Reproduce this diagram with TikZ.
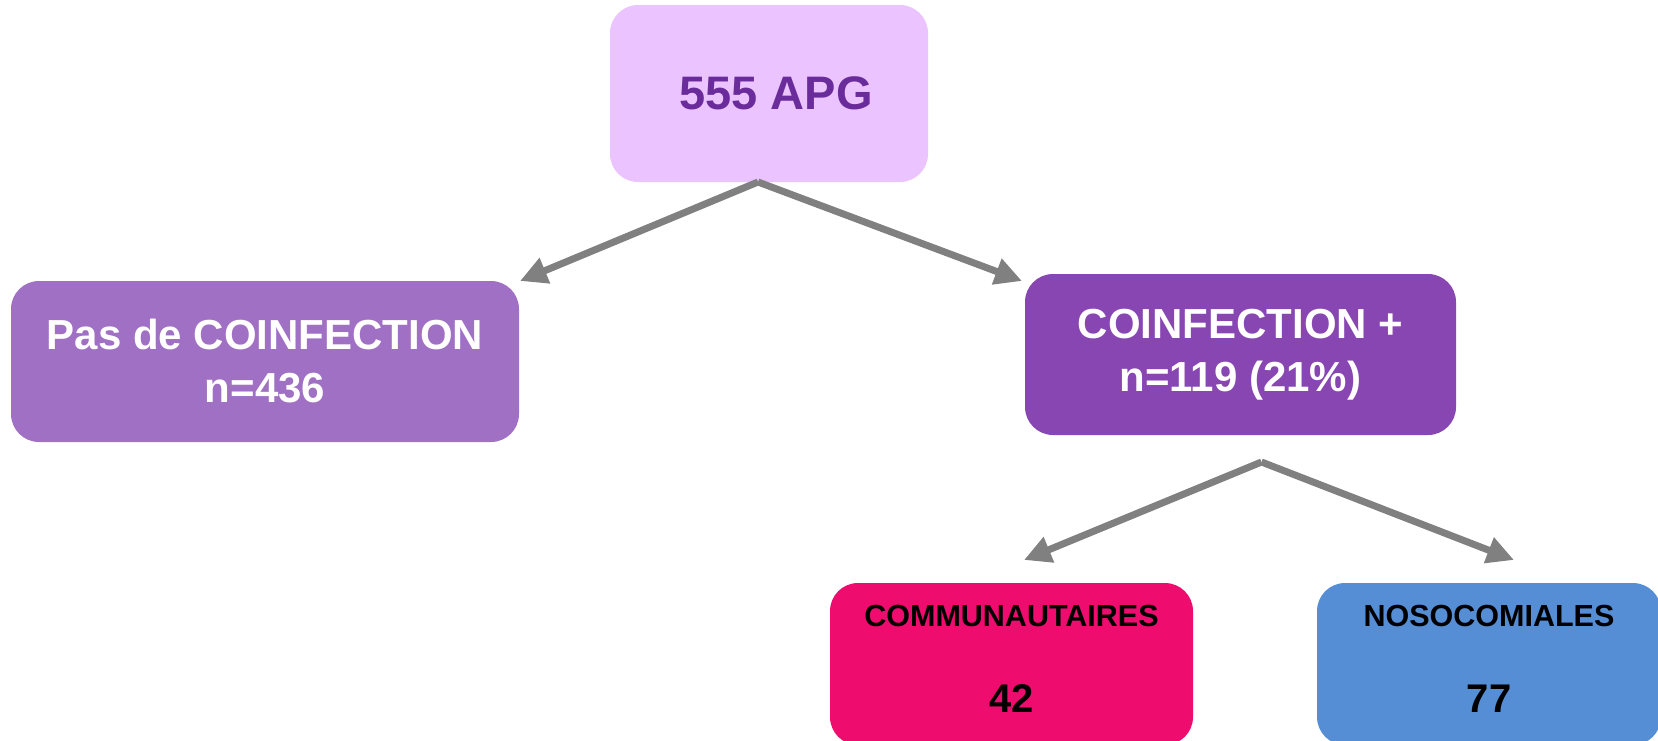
\documentclass[tikz,border=0pt]{standalone}
\usepackage{fontspec}
\setmainfont{Liberation Sans}
\usetikzlibrary{arrows.meta,calc}
\definecolor{topfill}{HTML}{EBC4FF}
\definecolor{toptext}{HTML}{6B2C9B}
\definecolor{leftfill}{HTML}{A070C4}
\definecolor{rightfill}{HTML}{8746B1}
\definecolor{commfill}{HTML}{EE0C6E}
\definecolor{nosofill}{HTML}{558ED5}
\definecolor{arrowgray}{HTML}{808080}
\tikzset{
  box/.style={rounded corners=28pt, inner sep=0pt, outer sep=0pt, align=center},
  conn/.style={draw=arrowgray, line width=7pt, -{Triangle[length=27pt,width=26pt]}},
  bigtxt/.style={font=\bfseries\fontsize{42}{53}\selectfont, text=white},
  headtxt/.style={font=\bfseries\fontsize{30.5}{36}\selectfont, text=black},
  numtxt/.style={font=\bfseries\fontsize{40}{48}\selectfont, text=black},
}
\begin{document}
\begin{tikzpicture}[x=1pt,y=-1pt]
\useasboundingbox (0,0) rectangle (1658,740);
\clip (0,0) rectangle (1658,740);
\node[box, fill=topfill, minimum width=318pt, minimum height=177pt] (top) at (769,93.5) {};
\node[text=toptext, font=\bfseries\fontsize{47}{56}\selectfont] (toplbl) at (776,93) {555 APG};
\node[box, bigtxt, fill=leftfill, minimum width=508pt, minimum height=161pt] (left) at (265,361.5) {Pas de COINFECTION\\n=436};
\node[box, bigtxt, fill=rightfill, minimum width=431pt, minimum height=161pt] (right) at (1240.5,354.5) {COINFECTION +\\n=119 (21\%)};
\node[box, fill=commfill, minimum width=363pt, minimum height=162pt] (comm) at (1011.5,664) {};
\node[headtxt] (commlbl) at (1011.5,616) {COMMUNAUTAIRES};
\node[numtxt] (commn) at (1011.5,699) {42};
\node[box, fill=nosofill, minimum width=344pt, minimum height=162pt] (noso) at (1489,664) {};
\node[headtxt] (nosolbl) at (1489,616) {NOSOCOMIALES};
\node[numtxt] (noson) at (1489,699) {77};
\coordinate (s1) at ($(top.south)+(-11,0)$);
\coordinate (e1) at (520,281);
\coordinate (e2) at (1022,281);
\draw[conn] (s1) -- (e1);
\draw[conn] (s1) -- (e2);
\coordinate (s2) at ($(right.south)+(21,27)$);
\coordinate (e3) at (1024,560);
\coordinate (e4) at (1514,560);
\draw[conn] (s2) -- (e3);
\draw[conn] (s2) -- (e4);
\end{tikzpicture}
\end{document}
